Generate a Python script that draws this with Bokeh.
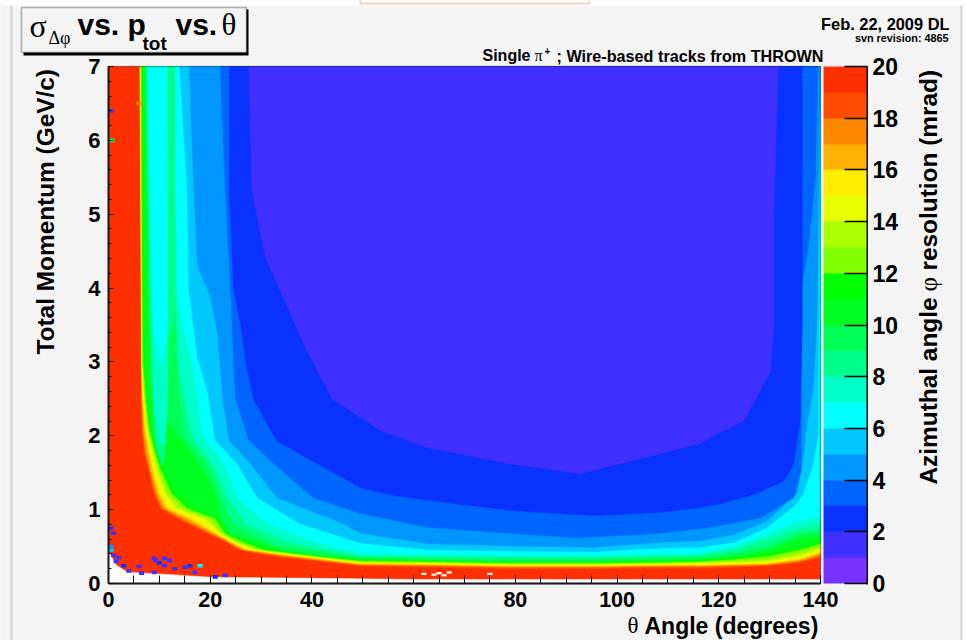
from math import pi
from bokeh.plotting import figure
from bokeh.embed import file_html
from bokeh.resources import INLINE
from bokeh.models import Label, BoxAnnotation, ColorBar, LinearColorMapper, FixedTicker, Range1d

# ---- colour bands: band k covers k..k+1 mrad
band_colors = ["#7832ff", "#4030ff", "#0a32ff", "#0064ff", "#0096ff", "#00c8ff", "#00ffff",
               "#00ffc8", "#00ff8a", "#00ff55", "#00ff20", "#00ff00", "#80ff00", "#aaff00",
               "#e8ff00", "#ffec00", "#ffb000", "#ff8800", "#ff4d00", "#ff3000"]
z_ticks = list(range(0, 21, 2))

# ---- contours of the resolution (theta deg, p GeV/c)
theta_L2 = [27.6, 28.2, 30.9, 38.7, 44, 53.5, 62.7, 79, 92.8, 105, 116.4, 119.7, 124.9, 130.2, 130.8, 130.8, 131.7]
p_L2 = [7, 5.32, 4.41, 3.2, 2.5, 2.07, 1.84, 1.62, 1.49, 1.7, 1.9, 2.03, 2.2, 2.88, 3.56, 5, 7]
theta_L3 = [23.8, 23.8, 24.6, 26, 27, 28.5, 33, 36.4, 49.5, 56, 66, 79, 95.4, 108, 116.4, 120.4, 127.5, 132.8, 134.7, 136, 136.4, 136.4]
p_L3 = [7, 5.3, 4, 3.5, 3, 2.5, 1.94, 1.8, 1.3, 1.19, 1.1, .99, .92, .96, 1.03, 1.08, 1.22, 1.39, 1.62, 2.2, 3.56, 7]
theta_L4 = [22, 23, 24, 24.6, 25, 27.6, 32.5, 40.3, 49.5, 62.7, 79, 92, 108.5, 118.4, 128.2, 134.7, 136.2, 136.2, 137.5, 139, 139.5]
p_L4 = [7, 5.3, 4, 3, 2.5, 1.94, 1.62, 1.16, .95, .76, .68, .62, .68, .76, .89, 1.16, 1.53, 4, 4.5, 5.5, 7]
theta_L5 = [15.9, 16.8, 17.5, 20, 21.4, 22.5, 23.7, 27.9, 33.2, 46.2, 49.5, 62.7, 79, 95.4, 108.5, 116.4, 123, 129.5, 135.4, 136.7, 137.4, 138.6, 139.3, 140]
p_L5 = [7, 5.3, 4.3, 3.9, 3.4, 2.5, 1.94, 1.62, 1.16, .81, .68, .54, .51, .49, .56, .58, .66, .85, 1.22, 1.76, 2.2, 2.65, 3.56, 7]
theta_L6 = [14, 15.5, 15.8, 17.5, 19.5, 21, 25.3, 29.3, 37.7, 49.5, 62.7, 79, 95.4, 108.5, 116.4, 123, 129.5, 135, 136.5, 138.5, 139.5, 140]
p_L6 = [7, 5.3, 4, 3.06, 2.6, 1.94, 1.62, 1.16, .81, .55, .46, .44, .43, .48, .49, .56, .76, 1.06, 1.2, 1.6, 2, 7]
theta_L7 = [13.2, 13.2, 13.5, 14.5, 16.4, 17.5, 18.5, 22.7, 25.3, 31.2, 39.8, 49.5, 62.7, 79, 95.4, 108.5, 116.4, 123, 129.5, 136, 140, 140]
p_L7 = [7, 5.3, 4, 3.5, 3, 2.5, 2, 1.62, 1.16, .81, .58, .41, .40, .38, .38, .40, .41, .5, .68, .85, .9, 7]
theta_L8 = [13.15, 13.15, 13.2, 13.8, 15, 16.5, 20.5, 23.5, 27, 36, 49.5, 62.7, 79, 95.4, 108.5, 116.4, 123, 129.5, 136, 140, 140]
p_L8 = [7, 5.3, 4, 3, 2.5, 2, 1.62, 1.16, .81, .55, .38, .37, .36, .36, .38, .39, .46, .6, .75, .8, 7]
theta_L9 = [13.1, 13.1, 13.15, 13.5, 14, 15, 19.5, 22.3, 24.5, 33, 49.5, 62.7, 79, 95.4, 108.5, 116.4, 123, 129.5, 136, 140, 140]
p_L9 = [7, 5.3, 4, 3, 2.5, 2, 1.62, 1.16, .81, .52, .36, .34, .33, .33, .35, .36, .41, .5, .68, .72, 7]

# high levels share their reading rows
left_p = [7, 5.3, 3, 2.5, 2.07, 1.76, 1.53, 1.22, 1.02, .88, .68, .58, .46, .38]
theta_left_L10 = [7.4, 7.6, 8.2, 8.6, 13, 16.5, 18.7, 21, 21.8, 22.3, 24, 29, 34, 42]
theta_left_L11 = [6.8, 6.9, 7.2, 7.6, 8.3, 9.6, 11, 13.5, 17, 21.7, 23.5, 27, 32, 41]
theta_left_L12 = [6.5, 6.6, 6.85, 7.4, 8.1, 9.3, 10.4, 12.5, 15.5, 21, 23, 26, 30.5, 40]
theta_left_L13 = [6.4, 6.5, 6.7, 7.2, 7.9, 9, 10, 11.8, 14.5, 20, 22.5, 25, 29.5, 39]
theta_left_L14 = [6.35, 6.45, 6.6, 7.1, 7.7, 8.8, 9.6, 11.2, 13.5, 19, 22, 24.6, 28.5, 38]
theta_left_L15 = [6.3, 6.4, 6.55, 6.9, 7.5, 8.6, 9.2, 10.6, 12.5, 17.5, 21.6, 24, 27.7, 37]
theta_left_L16 = [6.25, 6.36, 6.52, 6.7, 7.2, 8.0, 8.7, 9.9, 11.5, 16, 21, 23.6, 27, 36]
theta_left_L17 = [6.2, 6.34, 6.5, 6.6, 6.9, 7.6, 8.3, 9.5, 11, 15, 20.5, 23.3, 26.5, 34.5]
theta_left_L18 = [6.15, 6.32, 6.47, 6.55, 6.75, 7.3, 8.1, 9.2, 10.6, 14.2, 20, 23, 26, 33]
theta_left_L19 = [6.1, 6.3, 6.45, 6.5, 6.6, 7.0, 7.9, 8.9, 10.2, 13.5, 19.4, 22.7, 25.5, 31]
floor_theta = [49.5, 62.7, 79, 95.4, 108.5, 116.4, 123, 129.5, 136, 140, 140]
floor_p_L10 = [.34, .32, .30, .30, .32, .33, .37, .45, .63, .65, 7]
floor_p_L11 = [.32, .31, .29, .285, .3, .31, .35, .4, .5, .58, 7]
floor_p_L12 = [.31, .30, .28, .28, .29, .3, .33, .37, .46, .54, 7]
floor_p_L13 = [.30, .29, .27, .27, .28, .29, .31, .33, .42, .5, 7]
floor_p_L14 = [.29, .28, .26, .26, .27, .28, .29, .31, .38, .48, 7]
floor_p_L15 = [.28, .27, .25, .25, .26, .27, .27, .28, .35, .45, 7]
floor_p_L16 = [.27, .26, .24, .24, .25, .25, .26, .27, .33, .42, 7]
floor_p_L17 = [.26, .25, .23, .23, .24, .24, .25, .26, .31, .4, 7]
floor_p_L18 = [.25, .24, .22, .22, .23, .23, .24, .25, .3, .38, 7]
floor_p_L19 = [.24, .22, .2, .2, .21, .21, .22, .24, .28, .35, 7]

# pockets of lower resolution between the forward band and the stripe near 12 degrees
pocket9_theta = [13.1, 13.1, 11.7, 11.7, 11.2, 10.8, 10.5, 9.2, 8.8, 8.3, 7.7, 7.4]
pocket9_p = [7, 3.6, 3.3, 2.4, 1.9, 1.6, 1.6, 1.9, 2.4, 3.3, 5.3, 7]
pocket8_theta = [11.55, 11.65, 11.65, 11.7, 11.5, 11, 10, 9, 8.8, 8.3, 8.0, 7.5]
pocket8_p = [7, 5.3, 4, 3, 2.4, 1.9, 1.9, 2.4, 3, 4, 5.3, 7]
pocket7_theta = [11.5, 11.6, 11.6, 11.5, 10.5, 10, 9, 8.5, 8.2, 7.7]
pocket7_p = [7, 5.3, 4, 3.4, 3, 3, 3.4, 4, 5.3, 7]

# empty bins under the lowest momenta
empty_theta = [0, 0.3, 1.5, 3.7, 10, 20, 40, 60, 140, 140, 0]
empty_p = [.4, .4, .25, .153, .13, .085, .07, .055, .055, 0, 0]

# isolated bins
speck_theta = [.5, 1, .5, .5, 1, 2, 1.5, 3, 4, 6.5, 9, 6, 10, 12, 9, 11, 13, 15, 16, 18, 17, 21, 23, 9.3, 11, .7, .5, 6]
speck_p = [.75, .68, .5, .45, .38, .35, .3, .24, .17, .14, .15, .23, .28, .31, .34, .24, .2, .22, .24, .24, .15, .09, .11, .31, .34, 6.0, 6.4, 6.5]
speck_band = [1, 1, 4, 5, 1, 1, 1, 2, 1, 1, 1, 1, 2, 1, 1, 1, 1, 1, 2, 6, 1, 2, 1, 1, 1, 9, 1, 17]
white_theta = [64, 65, 66, 62, 75, 67]
white_p = [.12, .14, .11, .13, .13, .15]

W, H = 967, 640
PX_THETA = (820 - 108) / 140
PX_P = (583 - 66) / 7


def dx(px):
    return (px - 108) / PX_THETA


def dy(py):
    return (583 - py) / PX_P


p = figure(width=W, height=H, x_range=Range1d(dx(0), dx(W)), y_range=Range1d(dy(H), dy(0)),
           output_backend="svg", toolbar_location=None,
           min_border=0, background_fill_color="#f4f4f4", border_fill_color="#f4f4f4")
p.styles = {"position": "absolute", "left": "0px", "top": "0px"}
p.grid.visible = False
p.outline_line_color = None


def paint(xs, ys, band):
    c = band_colors[band]
    p.patch(xs, ys, fill_color=c, line_color=c, line_width=0.5)


paint([0, 140, 140, 0], [0, 0, 7, 7], 19)
high = [(19, theta_left_L19, floor_p_L19), (18, theta_left_L18, floor_p_L18), (17, theta_left_L17, floor_p_L17),
        (16, theta_left_L16, floor_p_L16), (15, theta_left_L15, floor_p_L15), (14, theta_left_L14, floor_p_L14),
        (13, theta_left_L13, floor_p_L13), (12, theta_left_L12, floor_p_L12), (11, theta_left_L11, floor_p_L11),
        (10, theta_left_L10, floor_p_L10)]
for lev, tl, fp in high:
    paint(tl + floor_theta, left_p + fp, lev - 1)
paint(theta_L9, p_L9, 8)
paint(pocket9_theta, pocket9_p, 8)
paint(theta_L8, p_L8, 7)
paint(pocket8_theta, pocket8_p, 7)
paint(theta_L7, p_L7, 6)
paint(pocket7_theta, pocket7_p, 6)
paint(theta_L6, p_L6, 5)
paint(theta_L5, p_L5, 4)
paint(theta_L4, p_L4, 3)
paint(theta_L3, p_L3, 2)
paint(theta_L2, p_L2, 1)
p.patch(empty_theta, empty_p, fill_color="white", line_color="white", line_width=0.5)
p.rect(speck_theta, speck_p, width=1, height=0.05, fill_color=[band_colors[b] for b in speck_band], line_color=None)
p.rect(white_theta, white_p, width=1, height=0.03, fill_color="white", line_color=None)

BOLD = "Liberation Sans"
SERIF = "Liberation Serif"
for ax in (p.xaxis, p.yaxis):
    ax.major_label_text_font = BOLD
    ax.major_label_text_font_style = "bold"
    ax.major_label_text_color = "black"
    ax.axis_line_color = "#222222"
    ax.axis_line_width = 2
    ax.major_tick_line_color = "#111111"
    ax.minor_tick_line_color = "#111111"
    ax.major_tick_out = 0
    ax.minor_tick_out = 0
    ax.fixed_location = 0
p.xaxis.major_label_text_font_size = "21.5px"
p.yaxis.major_label_text_font_size = "22px"
p.xaxis.bounds = (0, 140)
p.yaxis.bounds = (0, 7)
p.xaxis.ticker = FixedTicker(ticks=list(range(0, 141, 20)), minor_ticks=list(range(0, 141, 5)))
p.yaxis.ticker = FixedTicker(ticks=list(range(0, 8)), minor_ticks=[i / 5 for i in range(0, 36)])
p.xaxis.major_tick_in = 8
p.xaxis.minor_tick_in = 8
p.yaxis.major_tick_in = 5
p.yaxis.minor_tick_in = 3
p.xaxis.major_label_standoff = 8
p.yaxis.major_label_standoff = 8

mapper = LinearColorMapper(palette=band_colors, low=0, high=20)
cb = ColorBar(color_mapper=mapper, ticker=FixedTicker(ticks=z_ticks), location=(823, 57), width=44, height=517,
              padding=0, margin=0, bar_line_color=None, major_tick_in=23, major_tick_out=0,
              major_tick_line_color="black", major_tick_line_width=1.5, minor_tick_line_color=None,
              major_label_text_font=BOLD, major_label_text_font_style="bold", major_label_text_font_size="23px",
              major_label_text_color="black", label_standoff=5, background_fill_color=None, border_line_color=None)
p.add_layout(cb)


def txt(x, y, s, size, font=BOLD, style="bold", align="left", angle=0.0, base="middle"):
    p.add_layout(Label(x=dx(x), y=dy(y), text=s, text_font=font,
                       text_font_style=style, text_font_size=f"{size}px", text_align=align,
                       text_baseline=base, text_color="black", angle=angle, angle_units="rad"))


def box(l, r, t, b, fill, line=None, lw=1):
    p.add_layout(BoxAnnotation(left=dx(l), right=dx(r), top=dy(t), bottom=dy(b), fill_color=fill,
                               fill_alpha=1 if fill else 0, line_color=line, line_width=lw))


# frame of the histogram
p.add_layout(BoxAnnotation(left=0, right=140, top=7, bottom=0, fill_alpha=0, line_color="#111111", line_width=1.5))
# right edge of the colour scale
box(866, 867.5, 66, 584, "#111111")
# page decoration
box(0, W, 0, 5, "white")
box(360, 589, -3, 3, "white", "#c87a20", 2)
box(10, 12, 5, H, "#cfcfcf")
box(960, 962, 5, H, "#cfcfcf")
box(962, W, 0, H, "white")
# title box
box(23, 248, 9, 55, "black")
box(21, 246, 7, 52, "#f4f4f4", "black", 1.5)

txt(29, 25, "σ", 32, SERIF, "normal")
txt(48, 37, "Δφ", 18, SERIF, "normal")
txt(77, 24, "vs. p", 30)
txt(142, 43, "tot", 19)
txt(175, 24, "vs.", 30)
txt(221, 24, "θ", 31, SERIF, "normal")
txt(949, 23, "Feb. 22, 2009 DL", 16.4, align="right")
txt(948, 37, "svn revision: 4865", 10.8, align="right")
txt(482, 55, "Single", 16)
txt(534, 55, "π", 16, SERIF, "normal")
txt(544, 50, "+", 10)
txt(556, 55, "; Wire-based tracks from THROWN", 16.2)
txt(45, 354, "Total Momentum (GeV/c)", 24.4, angle=pi / 2)
txt(627, 625, "θ", 23, SERIF, "normal")
txt(644, 625, "Angle (degrees)", 23)
txt(928, 484, "Azimuthal angle", 24.4, angle=pi / 2)
txt(928, 291, "φ", 25, SERIF, "normal", angle=pi / 2)
txt(928, 270, "resolution (mrad)", 24.4, angle=pi / 2)

open("out.html", "w").write(file_html(p, INLINE))
